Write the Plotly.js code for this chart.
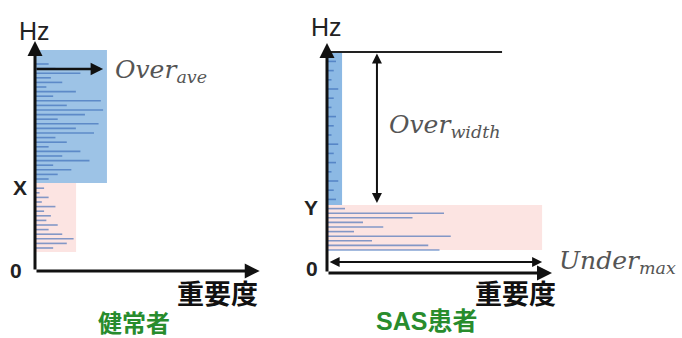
<!DOCTYPE html>
<html><head><meta charset="utf-8">
<script src="https://cdn.plot.ly/plotly-3.0.1.min.js"></script>
<style>html,body{margin:0;padding:0;background:#fff}#chart{width:682px;height:338px}</style>
</head><body><div id="chart"></div>
<script>
// ---- data ----
const healthyHz  = [10,12,14,16,18,20,22,24,26,28,30,32,34,36,40,42,44,46,48,50,52,54,56,58,60,62,64,66,68,70,72,74,76,78,80,82,84,86,88,90];
const healthyImp = [8,14,17,12,6,10,5,7,4,9,3,6,2,4,6,10,16,8,24,12,20,6,14,9,26,18,28,10,22,30,14,29,8,18,5,12,7,20,9,6];
const sasHz  = [10,12,14,16,18,20,22,24,26,28,32,36,40,44,48,52,56,60,64,68,72,76,80,84,88,92];
const sasImp = [50,45,20,55,12,25,16,38,52,8,4,3,5,2,4,3,5,2,3,4,2,3,5,2,3,4];
const thresholdX = 38.3;   // healthy: boundary X (Hz)
const thresholdY = 29.6;   // SAS: boundary Y (Hz)
const overAve = 30;        // healthy: Over_ave
const healthyTop = 96.1, healthyLow = 8.3, healthyUnderMax = 18.1, healthyOverMax = 31.7;
const sasTop = 96.1, sasLow = 10, sasUnderMax = 95.6, sasOverMax = 6.7, sasTopLineEnd = 77.8;
const labels = {hz:'Hz', zero:'0', x:'X', y:'Y', imp:'重要度', healthy:'健常者', sas:'SAS患者'};

const W = 682, H = 338;
const px = v => v / W, py = v => 1 - v / H;
const barColor = 'rgba(50,100,180,0.6)';

const traces = [
  {type:'bar', orientation:'h', x:healthyImp, y:healthyHz, width:0.7, marker:{color:barColor}, xaxis:'x', yaxis:'y', hoverinfo:'skip'},
  {type:'bar', orientation:'h', x:sasImp, y:sasHz, width:0.7, marker:{color:barColor}, xaxis:'x2', yaxis:'y2', hoverinfo:'skip'}
];

const ax = (dom) => ({domain:dom, range:[0,100], showgrid:false, zeroline:false, showline:false, showticklabels:false, ticks:'', fixedrange:true});

const shapes = [
  {type:'rect', xref:'x', yref:'y', x0:0, x1:healthyOverMax, y0:thresholdX, y1:healthyTop, fillcolor:'rgb(157,195,230)', line:{width:0}, layer:'below'},
  {type:'rect', xref:'x', yref:'y', x0:0, x1:healthyUnderMax, y0:healthyLow, y1:thresholdX, fillcolor:'rgb(252,228,226)', line:{width:0}, layer:'below'},
  {type:'rect', xref:'x2', yref:'y2', x0:0, x1:sasOverMax, y0:thresholdY, y1:sasTop, fillcolor:'rgb(140,185,228)', line:{width:0}, layer:'below'},
  {type:'rect', xref:'x2', yref:'y2', x0:0, x1:sasUnderMax, y0:sasLow, y1:thresholdY, fillcolor:'rgb(252,228,226)', line:{width:0}, layer:'below'},
  {type:'line', xref:'x2', yref:'y2', x0:0, x1:sasTopLineEnd, y0:sasTop, y1:sasTop, line:{color:'#222', width:2}}
];

function arrow(xr, yr, x0, y0, x1, y1, w, both){
  return {xref:xr, yref:yr, axref:xr, ayref:yr, x:x1, y:y1, ax:x0, ay:y0, text:'', showarrow:true,
    arrowhead:2, arrowsize:1, arrowwidth:w, arrowcolor:'#111', arrowside: both ? 'end+start' : 'end', startarrowhead:2, startarrowsize:1};
}
function txt(t, x, y, size, opts){
  return Object.assign({xref:'paper', yref:'paper', x:px(x), y:py(y), text:t, showarrow:false,
    font:{family:'Liberation Sans, Arial', size:size, color:'#222'}, xanchor:'center', yanchor:'middle'}, opts||{});
}
const cjk = 'Noto Sans CJK JP';
const mathFont = {family:'DejaVu Serif', size:25, color:'#555'};

const annotations = [
  // axes
  arrow('x','y',0,0,0,100,3,false),
  arrow('x','y',0,0,99,0,3,false),
  arrow('x2','y2',0,0,0,100,3,false),
  arrow('x2','y2',0,0,100,0,3,false),
  // measures
  arrow('x','y',0,87.8,overAve,87.8,2.5,false),
  arrow('x2','y2',22.2,sasTop,22.2,thresholdY+0.8,2,true),
  arrow('x2','y2',0.5,4.8,sasUnderMax,4.8,2,true),
  // labels
  txt(labels.hz, 34, 31, 25),
  txt(labels.hz, 326, 27, 25),
  txt('<b>'+labels.zero+'</b>', 16, 270, 21),
  txt('<b>'+labels.x+'</b>', 20, 187, 21),
  txt('<b>'+labels.zero+'</b>', 312, 268, 21),
  txt('<b>'+labels.y+'</b>', 311, 207, 21),
  txt('<i>Over<sub>ave</sub></i>', 113, 71, 25, {font:mathFont, xanchor:'left'}),
  txt('<i>Over<sub>width</sub></i>', 387, 126, 25, {font:mathFont, xanchor:'left'}),
  txt('<i>Under<sub>max</sub></i>', 557, 262, 25, {font:mathFont, xanchor:'left'}),
  txt('<b>'+labels.imp+'</b>', 217, 292, 27, {font:{family:cjk, size:27, color:'#111'}}),
  txt('<b>'+labels.imp+'</b>', 515, 292, 27, {font:{family:cjk, size:27, color:'#111'}}),
  txt('<b>'+labels.healthy+'</b>', 134, 321, 24, {font:{family:cjk, size:24, color:'rgb(40,140,45)'}}),
  txt('<b>'+labels.sas+'</b>', 426, 321, 24, {font:{family:'Liberation Sans, '+cjk, size:25, color:'rgb(40,140,45)'}})
];

const layout = {
  width:W, height:H, margin:{l:0,r:0,t:0,b:0}, paper_bgcolor:'#fff', plot_bgcolor:'rgba(0,0,0,0)',
  showlegend:false, barmode:'overlay',
  xaxis: Object.assign(ax([px(35), px(262)]), {anchor:'y'}),
  yaxis: Object.assign(ax([py(271), py(41)]), {anchor:'x'}),
  xaxis2: Object.assign(ax([px(327), px(552)]), {anchor:'y2'}),
  yaxis2: Object.assign(ax([py(273), py(43)]), {anchor:'x2'}),
  shapes:shapes, annotations:annotations
};
Plotly.newPlot('chart', traces, layout, {staticPlot:true, displayModeBar:false});
</script></body></html>
